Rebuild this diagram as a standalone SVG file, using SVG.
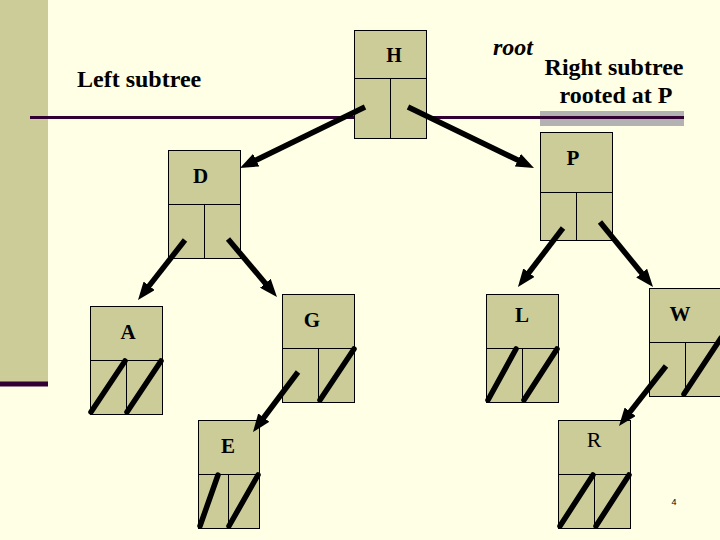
<svg xmlns="http://www.w3.org/2000/svg" width="720" height="540" viewBox="0 0 720 540">
<defs>
<marker id="ah" markerUnits="userSpaceOnUse" markerWidth="18" markerHeight="14" refX="8" refY="7" orient="auto" viewBox="0 0 18 14">
<path d="M0,0 L18,7 L0,14 z" fill="#000"/>
</marker>
<style>
.box{fill:#CCCC99;stroke:#000;stroke-width:1}
.lbl{font-family:"Liberation Serif","Times New Roman",serif;font-weight:bold;font-size:21px;text-anchor:middle;fill:#000}
.big{font-family:"Liberation Serif","Times New Roman",serif;font-weight:bold;font-size:24px;fill:#000}
.arr{stroke:#000;stroke-width:5.5;fill:none;marker-end:url(#ah)}
.nul{stroke:#000;stroke-width:5.5;stroke-linecap:round;fill:none}
</style>
</defs>
<rect x="0" y="0" width="720" height="540" fill="#FFFFE6"/>
<rect x="0" y="0" width="48" height="382" fill="#CCCC99"/>
<rect x="0" y="381.5" width="48" height="5" fill="#330033"/>
<rect x="540" y="111" width="144" height="15" fill="#B2B2B2"/>
<line x1="30" y1="117.5" x2="684" y2="117.5" stroke="#330033" stroke-width="3"/>

<text class="big" x="77" y="87">Left subtree</text>
<text class="big" x="493" y="55" font-style="italic">root</text>
<text class="big" x="614" y="75" text-anchor="middle">Right subtree</text>
<text class="big" x="616" y="103" text-anchor="middle">rooted at P</text>

<g id="node-H">
<rect class="box" x="354.5" y="30.5" width="72" height="108"/>
<line x1="354.5" y1="78.5" x2="426.5" y2="78.5" stroke="#000"/>
<line x1="390.5" y1="78.5" x2="390.5" y2="138.5" stroke="#000"/>
<text class="lbl" x="394" y="62" style="font-size:20px">H</text>
</g>
<g id="node-D">
<rect class="box" x="168.5" y="150.5" width="72" height="108"/>
<line x1="168.5" y1="204.5" x2="240.5" y2="204.5" stroke="#000"/>
<line x1="204.5" y1="204.5" x2="204.5" y2="258.5" stroke="#000"/>
<text class="lbl" x="200.5" y="183">D</text>
</g>
<g id="node-A">
<rect class="box" x="90.5" y="306.5" width="72" height="108"/>
<line x1="90.5" y1="360.5" x2="162.5" y2="360.5" stroke="#000"/>
<line x1="126.5" y1="360.5" x2="126.5" y2="414.5" stroke="#000"/>
<text class="lbl" x="128" y="339">A</text>
<line class="nul" x1="91" y1="412" x2="125" y2="361"/>
<line class="nul" x1="127" y1="412" x2="161" y2="361"/>
</g>
<g id="node-G">
<rect class="box" x="282.5" y="294.5" width="72" height="108"/>
<line x1="282.5" y1="348.5" x2="354.5" y2="348.5" stroke="#000"/>
<line x1="318.5" y1="348.5" x2="318.5" y2="402.5" stroke="#000"/>
<text class="lbl" x="312" y="327">G</text>
<line class="nul" x1="320" y1="400" x2="354" y2="349"/>
</g>
<g id="node-E">
<rect class="box" x="198.5" y="420.5" width="61" height="108"/>
<line x1="198.5" y1="474.5" x2="259.5" y2="474.5" stroke="#000"/>
<line x1="228.5" y1="474.5" x2="228.5" y2="528.5" stroke="#000"/>
<text class="lbl" x="228" y="453">E</text>
<line class="nul" x1="200" y1="526" x2="218" y2="475"/>
<line class="nul" x1="229" y1="526" x2="258" y2="475"/>
</g>
<g id="node-P">
<rect class="box" x="540.5" y="132.5" width="72" height="108"/>
<line x1="540.5" y1="192.5" x2="612.5" y2="192.5" stroke="#000"/>
<line x1="576.5" y1="192.5" x2="576.5" y2="240.5" stroke="#000"/>
<text class="lbl" x="573" y="165">P</text>
</g>
<g id="node-L">
<rect class="box" x="486.5" y="294.5" width="72" height="108"/>
<line x1="486.5" y1="348.5" x2="558.5" y2="348.5" stroke="#000"/>
<line x1="522.5" y1="348.5" x2="522.5" y2="402.5" stroke="#000"/>
<text class="lbl" x="522" y="322">L</text>
<line class="nul" x1="488" y1="400" x2="516" y2="349"/>
<line class="nul" x1="524" y1="400" x2="557" y2="349"/>
</g>
<g id="node-W">
<rect class="box" x="649.5" y="288.5" width="72" height="108"/>
<line x1="649.5" y1="342.5" x2="721.5" y2="342.5" stroke="#000"/>
<line x1="685.5" y1="342.5" x2="685.5" y2="396.5" stroke="#000"/>
<text class="lbl" x="680" y="321">W</text>
<line class="nul" x1="684" y1="394" x2="721" y2="338"/>
</g>
<g id="node-R">
<rect class="box" x="558.5" y="420.5" width="72" height="108"/>
<line x1="558.5" y1="474.5" x2="630.5" y2="474.5" stroke="#000"/>
<line x1="594.5" y1="474.5" x2="594.5" y2="528.5" stroke="#000"/>
<text class="lbl" x="594" y="447" style="font-weight:normal;font-size:22px">R</text>
<line class="nul" x1="560" y1="526" x2="593" y2="475"/>
<line class="nul" x1="596" y1="526" x2="629" y2="475"/>
</g>

<g id="connectors">
<line class="arr" x1="365" y1="107" x2="249" y2="163.6"/>
<line class="arr" x1="408" y1="107" x2="525" y2="163.6"/>
<line class="arr" x1="185" y1="240" x2="144.2" y2="292.1"/>
<line class="arr" x1="228" y1="239" x2="270.5" y2="289.4"/>
<line class="arr" x1="298" y1="372" x2="259" y2="424"/>
<line class="arr" x1="563" y1="228" x2="524" y2="279"/>
<line class="arr" x1="600" y1="222" x2="646.7" y2="279.3"/>
<line class="arr" x1="666" y1="366" x2="625.2" y2="418.1"/>
</g>

<text x="674" y="504.5" font-family="'Liberation Sans',Arial,sans-serif" font-size="9" text-anchor="middle" fill="#000">4</text>
</svg>
